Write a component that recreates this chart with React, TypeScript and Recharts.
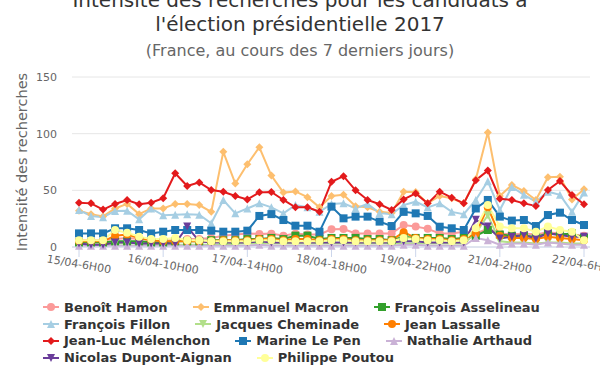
import React from "react";
import { CartesianGrid, Line, LineChart, XAxis, YAxis } from "recharts";

// créneaux de 4h, du 15/04-6H00 au 22/04-6H00
const slots = [
  "15/04-6H00", "15/04-10H00", "15/04-14H00", "15/04-18H00", "15/04-22H00",
  "16/04-2H00", "16/04-6H00", "16/04-10H00", "16/04-14H00", "16/04-18H00", "16/04-22H00",
  "17/04-2H00", "17/04-6H00", "17/04-10H00", "17/04-14H00", "17/04-18H00", "17/04-22H00",
  "18/04-2H00", "18/04-6H00", "18/04-10H00", "18/04-14H00", "18/04-18H00", "18/04-22H00",
  "19/04-2H00", "19/04-6H00", "19/04-10H00", "19/04-14H00", "19/04-18H00", "19/04-22H00",
  "20/04-2H00", "20/04-6H00", "20/04-10H00", "20/04-14H00", "20/04-18H00", "20/04-22H00",
  "21/04-2H00", "21/04-6H00", "21/04-10H00", "21/04-14H00", "21/04-18H00", "21/04-22H00",
  "22/04-2H00", "22/04-6H00",
];

const hamon = [6, 6, 6, 7, 8, 7, 6, 6, 6, 7, 7, 8, 10, 11, 12, 11.5, 11.8, 10, 11.8, 11, 11, 15.6, 15.9, 12, 12, 12, 12, 19.4, 18, 16, 12, 12, 13.5, 12, 16, 12, 11, 12, 11, 13, 12, 11, 10];
const macron = [32, 29, 27, 34, 38, 29, 34, 34, 38, 38, 37, 31, 84, 56, 73, 88, 63, 48, 49, 44, 35, 45, 46, 36, 35, 31, 30, 48.8, 48.5, 38.5, 45, 43, 38.5, 59.7, 101, 45, 54.7, 49.4, 41.5, 61.5, 62, 42, 51];
const asselineau = [4, 4, 4, 5, 5, 5, 4, 4, 5, 5, 5, 6, 6, 6, 7, 7, 8, 7, 10, 10, 7, 8, 8, 8, 7, 7, 6, 9, 8, 8, 8, 7, 8, 10, 15, 11, 10, 10, 9, 12, 11, 12, 8];
const fillon = [32.6, 27.4, 26.2, 31.8, 32, 24.4, 34, 28, 28.5, 29, 28.5, 21, 41.5, 29.7, 34, 38.5, 35, 29.7, 37, 35, 31, 38, 38.5, 34, 38, 30, 29, 37, 40, 35, 38.5, 31, 29, 41.5, 58, 32.6, 53, 46, 40, 48.8, 46, 31, 48];
const cheminade = [2, 2, 2, 3, 3, 3, 2, 2, 2, 2, 2, 2, 2, 3, 3, 3, 3, 3, 3, 3, 3, 3, 3, 3, 3, 3, 3, 3, 3, 3, 3, 3, 3, 12, 28, 5, 4, 4, 3, 4, 4, 3, 3];
const lassalle = [5, 5, 5, 10, 11, 8, 6, 5, 5, 5, 5, 5, 6, 6, 6, 7, 7, 6, 7, 7, 6, 7, 7, 6, 6, 6, 6, 13, 8, 7, 7, 6, 7, 12, 35, 10, 8, 8, 7, 9, 8, 7, 6];
const melenchon = [39, 38.5, 33, 38, 41.5, 37.7, 39, 43, 65, 53.8, 57, 50.3, 48.8, 45, 42, 48.2, 48.5, 41.5, 35, 35, 31.2, 57.6, 62.5, 50, 41.5, 37.7, 32.7, 42, 47.3, 38.5, 48.8, 43.5, 38.5, 59, 67.4, 42.6, 41.5, 38.5, 36.2, 50.3, 58.2, 45.9, 37.7];
const lepen = [12, 12, 12, 16.5, 16.5, 15, 12, 13.5, 15, 15, 15, 14.4, 13.5, 13.5, 14.4, 27.4, 29, 23.8, 18.8, 18.8, 13.5, 35.6, 25.3, 26.8, 26.8, 22.4, 18.5, 31, 29.7, 27.4, 17.9, 16.5, 15, 34, 41.5, 26.8, 23.3, 23.8, 18.5, 28.2, 30.3, 23.8, 19.4];
const arthaud = [1, 1, 1, 1, 1, 1, 1, 1, 1, 1, 1, 1, 1, 1, 1, 2, 1, 1, 1, 1, 1, 1, 1, 1, 1, 1, 1, 2, 2, 1, 1, 1, 1, 8, 6, 2, 3, 3, 2, 4, 3, 2, 2];
const dupont = [3, 2, 2, 4, 4, 3, 3, 3, 3, 18, 5, 4, 4, 4, 4, 5, 4, 4, 4, 4, 4, 4, 4, 4, 4, 4, 4, 5, 5, 4, 4, 4, 4, 24, 18, 7.6, 9, 10.5, 7.6, 12, 10.5, 9, 9];
const poutou = [6, 6, 6, 15, 12.6, 9, 7, 7, 8, 6, 6, 5, 5, 5, 5, 6, 6, 5, 5, 5, 5, 6, 6, 5, 5, 5, 5, 8, 7, 6, 6, 5, 6, 16.5, 37, 18, 16.5, 16.5, 13.5, 18, 15, 13.5, 6];

const yTicks = [0, 50, 100, 150];

type Shape = "circle" | "diamond" | "square" | "triangle" | "triangle-down";

const series: { key: string; name: string; color: string; shape: Shape; values: number[] }[] = [
  { key: "hamon", name: "Benoît Hamon", color: "#fb9a99", shape: "circle", values: hamon },
  { key: "macron", name: "Emmanuel Macron", color: "#fdbf6f", shape: "diamond", values: macron },
  { key: "asselineau", name: "François Asselineau", color: "#33a02c", shape: "square", values: asselineau },
  { key: "fillon", name: "François Fillon", color: "#a6cee3", shape: "triangle", values: fillon },
  { key: "cheminade", name: "Jacques Cheminade", color: "#b2df8a", shape: "triangle-down", values: cheminade },
  { key: "lassalle", name: "Jean Lassalle", color: "#ff7f00", shape: "circle", values: lassalle },
  { key: "melenchon", name: "Jean-Luc Mélenchon", color: "#e31a1c", shape: "diamond", values: melenchon },
  { key: "lepen", name: "Marine Le Pen", color: "#1f78b4", shape: "square", values: lepen },
  { key: "arthaud", name: "Nathalie Arthaud", color: "#cab2d6", shape: "triangle", values: arthaud },
  { key: "dupont", name: "Nicolas Dupont-Aignan", color: "#6a3d9a", shape: "triangle-down", values: dupont },
  { key: "poutou", name: "Philippe Poutou", color: "#ffff99", shape: "circle", values: poutou },
];

const FONT = "'DejaVu Sans', Verdana, sans-serif";

function Marker({ shape, cx, cy, color }: { shape: Shape; cx: number; cy: number; color: string }) {
  const r = 4;
  switch (shape) {
    case "circle":
      return <circle cx={cx} cy={cy} r={r} fill={color} />;
    case "square":
      return <rect x={cx - r} y={cy - r} width={2 * r} height={2 * r} fill={color} />;
    case "diamond":
      return <path d={`M${cx},${cy - r}L${cx + r},${cy}L${cx},${cy + r}L${cx - r},${cy}Z`} fill={color} />;
    case "triangle":
      return <path d={`M${cx},${cy - r}L${cx + r},${cy + r}L${cx - r},${cy + r}Z`} fill={color} />;
    default:
      return <path d={`M${cx - r},${cy - r}L${cx + r},${cy - r}L${cx},${cy + r}Z`} fill={color} />;
  }
}

const dotFor = (shape: Shape, color: string) => (p: any) => {
  if (p.cx == null || p.cy == null) return <g key={p.index} />;
  return <Marker key={p.index} shape={shape} cx={p.cx} cy={p.cy} color={color} />;
};

function XTick({ x, y, payload }: any) {
  return (
    <g transform={`translate(${x},${y + 5})`}>
      <text textAnchor="middle" dy="0.35em" transform="rotate(10)" fill="#666" fontSize={11}>
        {payload.value}
      </text>
    </g>
  );
}

const legendRows = [
  series.slice(0, 3),
  series.slice(3, 6),
  series.slice(6, 9),
  series.slice(9, 11),
];

export default function App() {
  const data = slots.map((label, i) => {
    const row: Record<string, string | number> = { label };
    series.forEach((s) => (row[s.key] = s.values[i]));
    return row;
  });

  return (
    <div style={{ position: "absolute", left: 0, top: 0, width: 600, height: 372, background: "#fff", fontFamily: FONT, overflow: "hidden" }}>
      <div style={{ position: "absolute", left: 0, width: 600, top: -12, textAlign: "center", color: "#333", fontSize: 20, lineHeight: "24px" }}>
        Intensité des recherches pour les candidats à
        <br />
        l'élection présidentielle 2017
      </div>
      <div style={{ position: "absolute", left: 0, width: 600, top: 41, textAlign: "center", color: "#666", fontSize: 16 }}>
        (France, au cours des 7 derniers jours)
      </div>

      <LineChart width={600} height={372} data={data} margin={{ top: 77, right: 10, left: 0, bottom: 95 }}>
        <CartesianGrid vertical={false} stroke="#e6e6e6" />
        <XAxis
          dataKey="label"
          interval={6}
          height={30}
          padding={{ left: 7, right: 6 }}
          stroke="#ccd6eb"
          tickSize={10}
          tick={<XTick />}
        />
        <YAxis
          width={72}
          domain={[0, 150]}
          ticks={yTicks}
          axisLine={false}
          tickLine={false}
          tickMargin={9}
          tick={{ fill: "#666", fontSize: 11 }}
          label={{
            value: "Intensité des recherches",
            angle: -90,
            position: "insideLeft",
            offset: 22,
            style: { textAnchor: "middle", fill: "#666", fontSize: 14.5 },
          }}
        />
        {series.map((s) => (
          <Line
            key={s.key}
            dataKey={s.key}
            name={s.name}
            type="linear"
            stroke={s.color}
            strokeWidth={2}
            dot={dotFor(s.shape, s.color)}
            activeDot={false}
            isAnimationActive={false}
          />
        ))}
      </LineChart>

      <div style={{ position: "absolute", left: 43, top: 299, color: "#333", fontSize: 13, fontWeight: "bold" }}>
        {legendRows.map((row, ri) => (
          <div key={ri} style={{ display: "flex", height: 16.8, alignItems: "center" }}>
            {row.map((s) => (
              <div key={s.key} style={{ display: "flex", alignItems: "center", marginRight: 25 }}>
                <svg width={16} height={12} style={{ marginRight: 5 }}>
                  <line x1={0} y1={6} x2={16} y2={6} stroke={s.color} strokeWidth={2} />
                  <Marker shape={s.shape} cx={8} cy={6} color={s.color} />
                </svg>
                <span>{s.name}</span>
              </div>
            ))}
          </div>
        ))}
      </div>
    </div>
  );
}
